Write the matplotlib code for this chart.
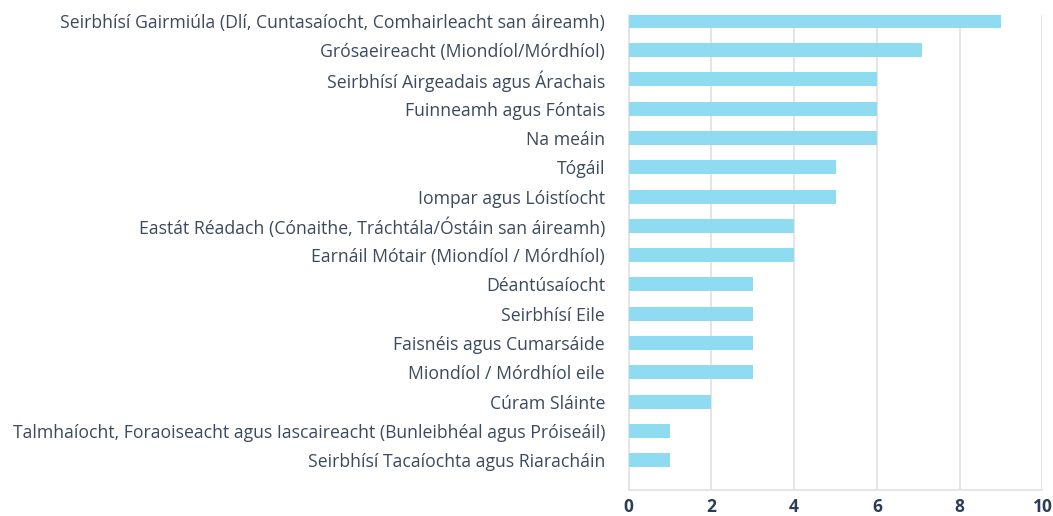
import matplotlib.pyplot as plt

categories = [
    'Seirbhísí Gairmiúla (Dlí, Cuntasaíocht, Comhairleacht san áireamh)',
    'Grósaeireacht (Miondíol/Mórdhíol)',
    'Seirbhísí Airgeadais agus Árachais',
    'Fuinneamh agus Fóntais',
    'Na meáin',
    'Tógáil',
    'Iompar agus Lóistíocht',
    'Eastát Réadach (Cónaithe, Tráchtála/Óstáin san áireamh)',
    'Earnáil Mótair (Miondíol / Mórdhíol)',
    'Déantúsaíocht',
    'Seirbhísí Eile',
    'Faisnéis agus Cumarsáide',
    'Miondíol / Mórdhíol eile',
    'Cúram Sláinte',
    'Talmhaíocht, Foraoiseacht agus Iascaireacht (Bunleibhéal agus Próiseáil)',
    'Seirbhísí Tacaíochta agus Riaracháin',
]
values = [9, 7.1, 6, 6, 6, 5, 5, 4, 4, 3, 3, 3, 3, 2, 1, 1]
xticks = [0, 2, 4, 6, 8, 10]

plt.rcParams['font.family'] = ['Open Sans', 'DejaVu Sans']

fig = plt.figure(figsize=(10.53, 5.16), dpi=100)
ax = fig.add_axes([0.597, 0.0504, 0.393, 0.9206])

pos = list(range(len(categories)))
ax.barh(pos, values, height=0.48, color='#8fdcf2', zorder=3)

ax.set_xlim(0, 10)
ax.set_ylim(15 + 1.02, -0.2)
ax.set_yticks(pos)
ax.set_yticklabels(categories, fontsize=12.7, color='#3c4a5e')
ax.set_xticks(xticks)
ax.set_xticklabels([str(t) for t in xticks], fontsize=12.5, fontweight='bold', color='#2e3d57')

ax.grid(axis='x', color='#e3e3e3', linewidth=1.3, zorder=0)
for side in ['top', 'right']:
    ax.spines[side].set_visible(False)
ax.spines['left'].set_color('#e3e3e3')
ax.spines['bottom'].set_color('#e3e3e3')
ax.spines['left'].set_linewidth(1.3)
ax.spines['bottom'].set_linewidth(1.3)
ax.tick_params(axis='both', length=0)
ax.tick_params(axis='y', pad=17)
ax.tick_params(axis='x', pad=6)

fig.savefig('out.png', dpi=100)
